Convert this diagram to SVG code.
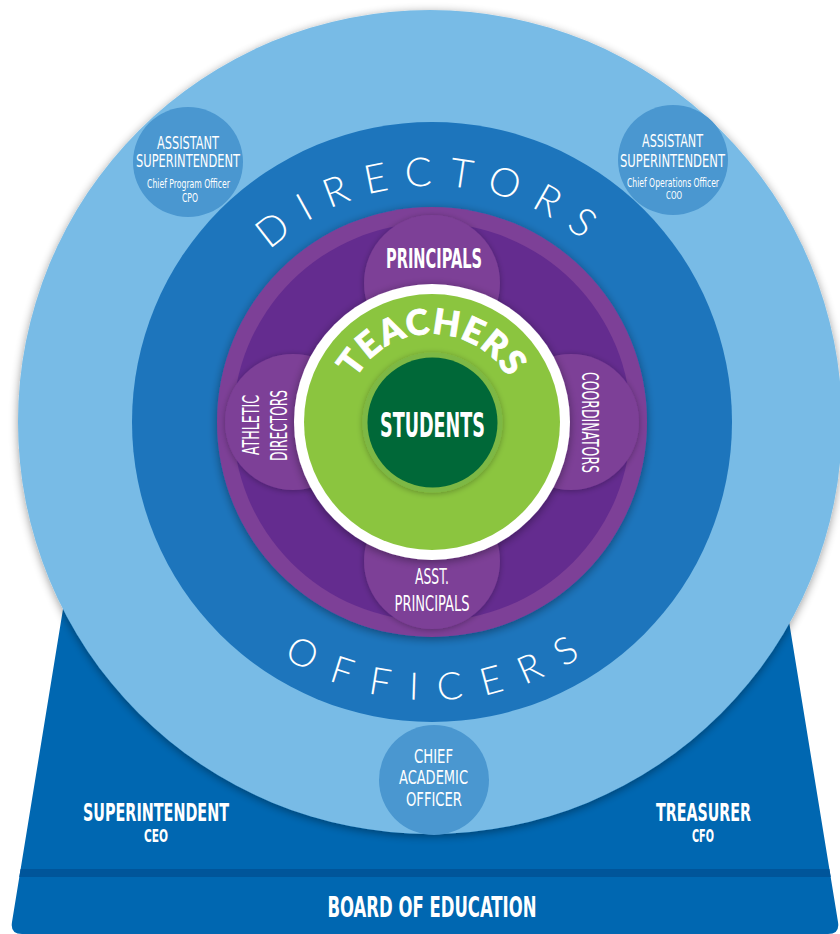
<svg xmlns="http://www.w3.org/2000/svg" width="840" height="934" viewBox="0 0 840 934">
<style>
.c{font-family:"Liberation Sans Narrow","DejaVu Sans Condensed","Liberation Sans",sans-serif;fill:#fff;text-anchor:middle}
.b{font-weight:bold}
.arc{font-family:"Lato","Open Sans","Liberation Sans",sans-serif;fill:#fff}
</style>
<defs>
<filter id="sh" x="-15%" y="-15%" width="130%" height="130%">
<feGaussianBlur in="SourceAlpha" stdDeviation="5"/>
<feOffset dx="0" dy="2"/>
<feComponentTransfer><feFuncA type="linear" slope="0.4"/></feComponentTransfer>
<feMerge><feMergeNode/><feMergeNode in="SourceGraphic"/></feMerge>
</filter>
<filter id="sh2" x="-15%" y="-15%" width="130%" height="130%">
<feGaussianBlur in="SourceAlpha" stdDeviation="3"/>
<feOffset dx="0" dy="1"/>
<feComponentTransfer><feFuncA type="linear" slope="0.3"/></feComponentTransfer>
<feMerge><feMergeNode/><feMergeNode in="SourceGraphic"/></feMerge>
</filter>
<path id="pDir" d="M 196 422 A 236 236 0 0 1 668 422"/>
<path id="pOff" d="M 154 422 A 278 278 0 0 0 710 422"/>
<path id="pTea" d="M 344 422 A 88 88 0 0 1 520 422"/>
</defs>

<g id="base">
<path d="M 71 560 H 779 L 838 922 Q 840 934 828 934 H 22 Q 10 934 12 922 Z" fill="#0067B1"/>
<polygon points="20.6,869 829.4,869 830.7,877 19.3,877" fill="#00559A"/>
</g>

<g id="board-of-education">
<text class="c b" x="432" y="917" font-size="28" textLength="209" lengthAdjust="spacingAndGlyphs">BOARD OF EDUCATION</text>
</g>
<g id="superintendent">
<text class="c b" x="156" y="821" font-size="25" textLength="146" lengthAdjust="spacingAndGlyphs">SUPERINTENDENT</text>
<text class="c b" x="156" y="842" font-size="17" textLength="24" lengthAdjust="spacingAndGlyphs">CEO</text>
</g>
<g id="treasurer">
<text class="c b" x="703.5" y="821" font-size="25" textLength="95" lengthAdjust="spacingAndGlyphs">TREASURER</text>
<text class="c b" x="703" y="842" font-size="17" textLength="22" lengthAdjust="spacingAndGlyphs">CFO</text>
</g>

<g id="officers-ring">
<circle cx="430" cy="422" r="412" fill="#78BBE6" filter="url(#sh)"/>
</g>

<g id="asst-supt-cpo">
<circle cx="188" cy="162" r="55" fill="#4A97D0"/>
<text class="c" x="188" y="149" font-size="18" textLength="62" lengthAdjust="spacingAndGlyphs">ASSISTANT</text>
<text class="c" x="188" y="167" font-size="18" textLength="104" lengthAdjust="spacingAndGlyphs">SUPERINTENDENT</text>
<text class="c" x="188.5" y="188" font-size="12" textLength="83" lengthAdjust="spacingAndGlyphs">Chief Program Officer</text>
<text class="c" x="190" y="202" font-size="12" textLength="16" lengthAdjust="spacingAndGlyphs">CPO</text>
</g>

<g id="asst-supt-coo">
<circle cx="673" cy="160" r="55" fill="#4A97D0"/>
<text class="c" x="672.5" y="147" font-size="18" textLength="61" lengthAdjust="spacingAndGlyphs">ASSISTANT</text>
<text class="c" x="672.5" y="167" font-size="18" textLength="105" lengthAdjust="spacingAndGlyphs">SUPERINTENDENT</text>
<text class="c" x="673" y="187" font-size="12" textLength="92" lengthAdjust="spacingAndGlyphs">Chief Operations Officer</text>
<text class="c" x="674" y="199" font-size="11" textLength="16" lengthAdjust="spacingAndGlyphs">COO</text>
</g>

<g id="chief-academic-officer">
<circle cx="434" cy="780" r="55" fill="#4A97D0"/>
<text class="c" x="433.5" y="763" font-size="20" textLength="39" lengthAdjust="spacingAndGlyphs">CHIEF</text>
<text class="c" x="433.5" y="784" font-size="20" textLength="69" lengthAdjust="spacingAndGlyphs">ACADEMIC</text>
<text class="c" x="434" y="806" font-size="20" textLength="56" lengthAdjust="spacingAndGlyphs">OFFICER</text>
</g>

<g id="directors-officers">
<circle cx="432" cy="422" r="300" fill="#1D75BC"/>
<text class="arc" font-size="40" font-weight="300" letter-spacing="16"><textPath href="#pDir" startOffset="50%" text-anchor="middle">DIRECTORS</textPath></text>
<text class="arc" font-size="38" font-weight="300" letter-spacing="20"><textPath href="#pOff" startOffset="51.2%" text-anchor="middle">OFFICERS</textPath></text>
</g>

<g id="principals-ring">
<circle cx="432" cy="422" r="215" fill="#7D3F97" filter="url(#sh)"/>
<circle cx="432" cy="422" r="199" fill="#642C8F"/>
<g fill="#7D3F97" filter="url(#sh2)">
<circle cx="432" cy="283" r="68"/>
<circle cx="432" cy="561" r="68"/>
<circle cx="293" cy="422" r="68"/>
<circle cx="571" cy="422" r="68"/>
</g>
</g>

<g id="principals">
<text class="c b" x="434" y="268" font-size="26" textLength="96" lengthAdjust="spacingAndGlyphs">PRINCIPALS</text>
</g>
<g id="asst-principals">
<text class="c" x="432" y="584" font-size="22" textLength="34" lengthAdjust="spacingAndGlyphs">ASST.</text>
<text class="c" x="432" y="611" font-size="22" textLength="75" lengthAdjust="spacingAndGlyphs">PRINCIPALS</text>
</g>
<g id="athletic-directors">
<text class="c" transform="translate(259,425) rotate(-90)" font-size="23" textLength="60" lengthAdjust="spacingAndGlyphs">ATHLETIC</text>
<text class="c" transform="translate(287,425.5) rotate(-90)" font-size="23" textLength="71" lengthAdjust="spacingAndGlyphs">DIRECTORS</text>
</g>
<g id="coordinators">
<text class="c" transform="translate(582,422.5) rotate(90)" font-size="23" textLength="101" lengthAdjust="spacingAndGlyphs">COORDINATORS</text>
</g>

<g id="teachers">
<circle cx="432" cy="422" r="138" fill="#fff" filter="url(#sh)"/>
<circle cx="432" cy="422" r="128" fill="#8BC53F"/>
<text class="arc" font-size="35" font-weight="900" letter-spacing="1" stroke="#fff" stroke-width="0.8"><textPath href="#pTea" startOffset="50%" text-anchor="middle">TEACHERS</textPath></text>
</g>

<g id="students">
<circle cx="432.5" cy="422.5" r="70" fill="#7DB844" filter="url(#sh2)"/>
<circle cx="432.5" cy="422.5" r="65" fill="#006838"/>
<text class="c b" x="432.5" y="437" font-size="33" textLength="105" lengthAdjust="spacingAndGlyphs">STUDENTS</text>
</g>
</svg>
